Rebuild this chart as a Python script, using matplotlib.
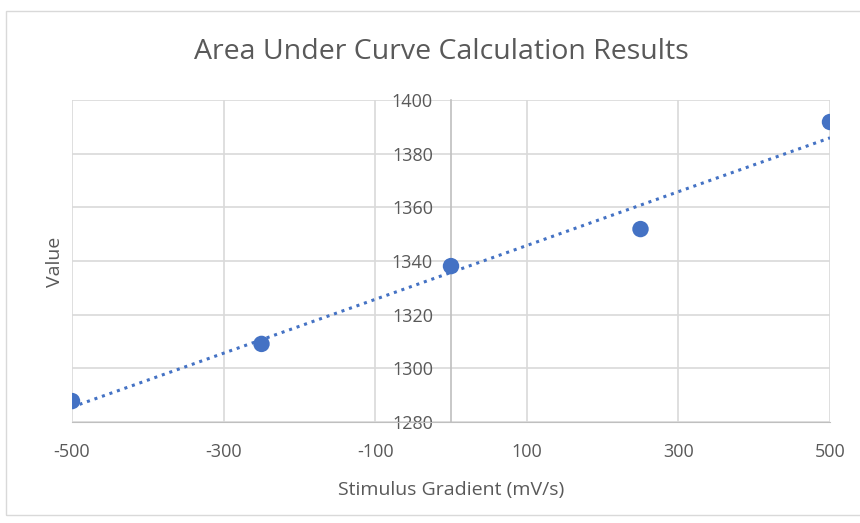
import numpy as np
import matplotlib.pyplot as plt
from matplotlib.patches import Rectangle

# Stimulus gradient (mV/s) and area-under-curve values
gradient = [-500, -250, 0, 250, 500]
auc_value = [1287.8, 1309.1, 1338.1, 1351.9, 1391.8]

x_ticks = [-500, -300, -100, 100, 300, 500]
y_ticks = [1280, 1300, 1320, 1340, 1360, 1380, 1400]

blue = '#4472C4'
grid = '#D9D9D9'
text_col = '#595959'

plt.rcParams['font.family'] = ['Open Sans', 'DejaVu Sans']
plt.rcParams['axes.unicode_minus'] = False

fig = plt.figure(figsize=(8.6, 5.23), dpi=100)
fig.patches.append(Rectangle((6 / 860, 8 / 523), 860 / 860, 504 / 523,
                             transform=fig.transFigure, fill=False,
                             edgecolor=grid, linewidth=1))
ax = fig.add_axes([72 / 860, 1 - 422 / 523, 758 / 860, 322 / 523])

# linear trendline
coef = np.polyfit(gradient, auc_value, 1)
xs = np.array([gradient[0], gradient[-1]])
ax.plot(xs, np.polyval(coef, xs), linestyle=(0, (1, 1.6)), color=blue,
        linewidth=2.2, zorder=3)
ax.scatter(gradient, auc_value, s=140, color=blue, zorder=4, edgecolors='none')

ax.set_xlim(-500, 500)
ax.set_ylim(1280, 1400)
ax.set_xticks(x_ticks)
ax.set_yticks(y_ticks)
ax.grid(True, color=grid, linewidth=1.2)
ax.set_axisbelow(True)

for side in ['top', 'right']:
    ax.spines[side].set_visible(False)
ax.spines['bottom'].set_color('#BFBFBF')
ax.spines['left'].set_position(('data', 0))
ax.spines['left'].set_color('#BFBFBF')
ax.spines['left'].set_linewidth(1.2)
ax.tick_params(length=0, colors=text_col, labelsize=13)
ax.tick_params(axis='x', pad=15)
ax.tick_params(axis='y', pad=13)

fig.text(441 / 860, 1 - 52 / 523, 'Area Under Curve Calculation Results',
         ha='center', va='center', fontsize=20.5, color=text_col)
fig.text(451 / 860, 1 - 490 / 523, 'Stimulus Gradient (mV/s)',
         ha='center', va='center', fontsize=14, color=text_col)
fig.text(55 / 860, 1 - 262 / 523, 'Value', rotation=90,
         ha='center', va='center', fontsize=14, color=text_col)

fig.savefig('out.png', dpi=100)
